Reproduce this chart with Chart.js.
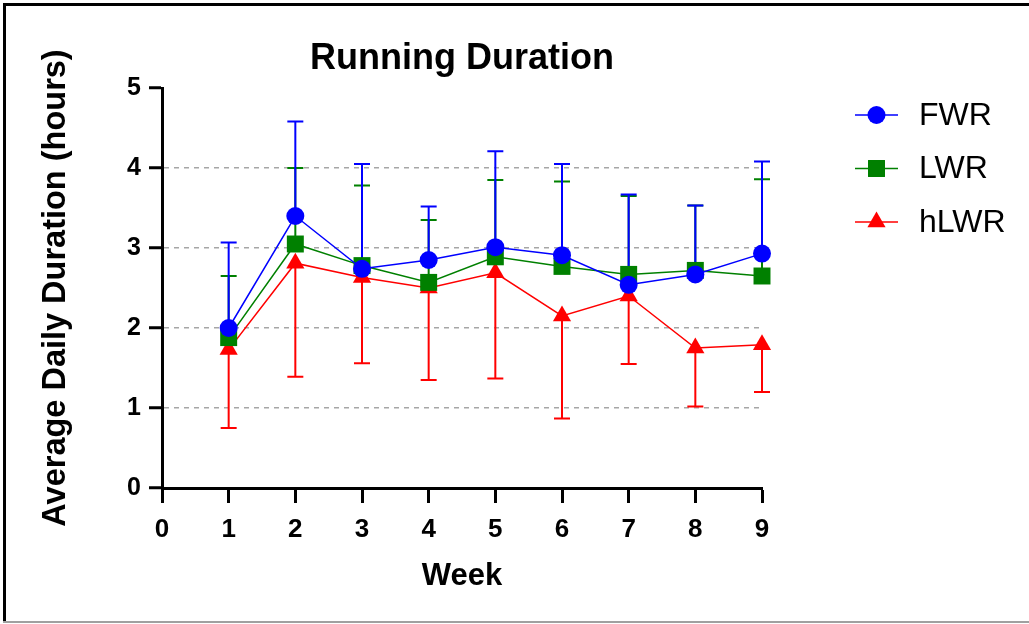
<!DOCTYPE html>
<html>
<head>
<meta charset="utf-8">
<script src="https://cdn.jsdelivr.net/npm/chart.js@4"></script>
<style>
  html, body { margin: 0; padding: 0; background: #fff; }
  #wrap { width: 1029px; height: 624px; }
</style>
</head>
<body>
<div id="wrap"><canvas id="duration-chart" width="1029" height="624"></canvas></div>
<script>
// Weekly means and SD
const weeks = [1, 2, 3, 4, 5, 6, 7, 8, 9];
const xTicks = [0, 1, 2, 3, 4, 5, 6, 7, 8, 9];
const yTicks = [0, 1, 2, 3, 4, 5];
const seriesNames = ['FWR', 'LWR', 'hLWR'];
const fwrMean = [2.00, 3.40, 2.74, 2.85, 3.01, 2.91, 2.54, 2.67, 2.93];
const fwrSD = [1.07, 1.18, 1.31, 0.67, 1.20, 1.14, 1.13, 0.86, 1.15];
const lwrMean = [1.88, 3.05, 2.78, 2.57, 2.89, 2.77, 2.67, 2.72, 2.65];
const lwrSD = [0.77, 0.95, 1.00, 0.78, 0.96, 1.06, 0.98, 0.81, 1.21];
const hlwrMean = [1.73, 2.81, 2.63, 2.50, 2.69, 2.15, 2.40, 1.75, 1.79];
const hlwrSD = [0.98, 1.42, 1.07, 1.15, 1.32, 1.28, 0.85, 0.73, 0.59];

const FONT = '"Liberation Sans", Arial, Helvetica, sans-serif';

function points(means) {
  return weeks.map((w, i) => ({ x: w, y: means[i] }));
}

// white page with the frame of the exported picture
const framePlugin = {
  id: 'frame',
  beforeDraw(chart) {
    const ctx = chart.ctx;
    ctx.save();
    ctx.fillStyle = '#fff';
    ctx.fillRect(0, 0, chart.width, chart.height);
    ctx.fillStyle = '#000';
    ctx.fillRect(3, 3, chart.width - 3, 3);
    ctx.fillRect(3, 3, 3, chart.height - 4);
    ctx.fillStyle = '#a0a0a0';
    ctx.fillRect(3, chart.height - 3, chart.width - 3, 2);
    ctx.restore();
  },
  afterDraw(chart) {
    // title centred over the plot area
    const ctx = chart.ctx;
    const a = chart.chartArea;
    ctx.save();
    ctx.font = 'bold 36px ' + FONT;
    ctx.fillStyle = '#000';
    ctx.textAlign = 'center';
    ctx.textBaseline = 'middle';
    ctx.fillText('Running Duration', (a.left + a.right) / 2, 59);
    ctx.restore();
  }
};

// one-sided SD bars: up for FWR / LWR, down for hLWR
const errorBars = {
  id: 'errorBars',
  beforeDatasetsDraw(chart) {
    const ctx = chart.ctx;
    const xs = chart.scales.x, ys = chart.scales.y;
    ctx.save();
    chart.data.datasets.slice().reverse().forEach(ds => {
      ctx.strokeStyle = ds.borderColor;
      ctx.lineWidth = 2;
      ds.data.forEach((p, i) => {
        const px = xs.getPixelForValue(p.x);
        const y0 = ys.getPixelForValue(p.y);
        const y1 = ys.getPixelForValue(p.y + ds.errDir * ds.sd[i]);
        ctx.beginPath();
        ctx.moveTo(px, y0);
        ctx.lineTo(px, y1);
        ctx.moveTo(px - 8, y1);
        ctx.lineTo(px + 8, y1);
        ctx.stroke();
      });
    });
    ctx.restore();
  }
};

// Prism-style legend: short line with the marker on it
const prismLegend = {
  id: 'prismLegend',
  afterDraw(chart) {
    const ctx = chart.ctx;
    ctx.save();
    chart.data.datasets.forEach((ds, i) => {
      const y = 115 + i * 53.5;
      ctx.strokeStyle = ds.borderColor;
      ctx.lineWidth = 1.5;
      ctx.beginPath();
      ctx.moveTo(855, y);
      ctx.lineTo(898, y);
      ctx.stroke();
      ctx.fillStyle = ds.backgroundColor;
      Chart.helpers.drawPoint(ctx, {
        pointStyle: ds.pointStyle,
        radius: ds.pointRadius,
        rotation: 0,
        borderWidth: 0
      }, 876.5, y);
      ctx.fillStyle = '#000';
      ctx.font = '32px ' + FONT;
      ctx.textAlign = 'left';
      ctx.textBaseline = 'middle';
      ctx.fillText(ds.label, 919, y + 1);
    });
    ctx.restore();
  }
};

const colors = ['#0000ff', '#008000', '#ff0000'];
const styles = ['circle', 'rect', 'triangle'];
const radii = [9, 12, 10.5];
const means = [fwrMean, lwrMean, hlwrMean];
const sds = [fwrSD, lwrSD, hlwrSD];
const dirs = [1, 1, -1];

const datasets = seriesNames.map((name, i) => ({
  label: name,
  data: points(means[i]),
  sd: sds[i],
  errDir: dirs[i],
  borderColor: colors[i],
  backgroundColor: colors[i],
  borderWidth: 1.5,
  pointStyle: styles[i],
  pointRadius: radii[i],
  pointBorderWidth: 0,
  pointHoverRadius: radii[i],
  showLine: true,
  fill: false,
  clip: false,
  tension: 0
}));

const durationChart = new Chart(document.getElementById('duration-chart'), {
  type: 'scatter',
  data: { datasets: datasets },
  plugins: [framePlugin, errorBars, prismLegend],
  options: {
    responsive: false,
    animation: false,
    events: [],
    layout: { padding: { top: 88, right: 267, bottom: 0, left: 0 } },
    plugins: {
      legend: { display: false },
      title: { display: false },
      tooltip: { enabled: false }
    },
    scales: {
      x: {
        type: 'linear',
        min: 0,
        max: 9,
        afterBuildTicks: s => { s.ticks = xTicks.map(v => ({ value: v })); },
        afterFit: s => { s.height = 136; },
        border: { display: true, color: '#000', width: 3 },
        grid: {
          drawOnChartArea: false,
          tickLength: 15,
          tickWidth: 3,
          tickColor: '#000'
        },
        ticks: {
          color: '#000',
          padding: 11,
          maxRotation: 0,
          font: { family: FONT, size: 26, weight: 'bold' }
        },
        title: {
          display: true,
          text: 'Week',
          color: '#000',
          padding: { top: 0, bottom: 29 },
          font: { family: FONT, size: 31, weight: 'bold' }
        }
      },
      y: {
        min: 0,
        max: 5,
        afterBuildTicks: s => { s.ticks = yTicks.map(v => ({ value: v })); },
        afterFit: s => { s.width = 162; },
        border: { display: true, color: '#000', width: 3, dash: [5, 5] },
        grid: {
          color: c => (c.tick && c.tick.value > 0 && c.tick.value < 5) ? '#a6a6a6' : 'rgba(0,0,0,0)',
          lineWidth: 1.5,
          tickLength: 13,
          tickWidth: 3,
          tickColor: '#000'
        },
        ticks: {
          color: '#000',
          padding: 8,
          font: { family: FONT, size: 25, weight: 'bold' }
        },
        title: {
          display: true,
          text: 'Average Daily Duration (hours)',
          color: '#000',
          padding: { top: 37, bottom: 0 },
          font: { family: FONT, size: 32.5, weight: 'bold' }
        }
      }
    }
  }
});
</script>
</body>
</html>
